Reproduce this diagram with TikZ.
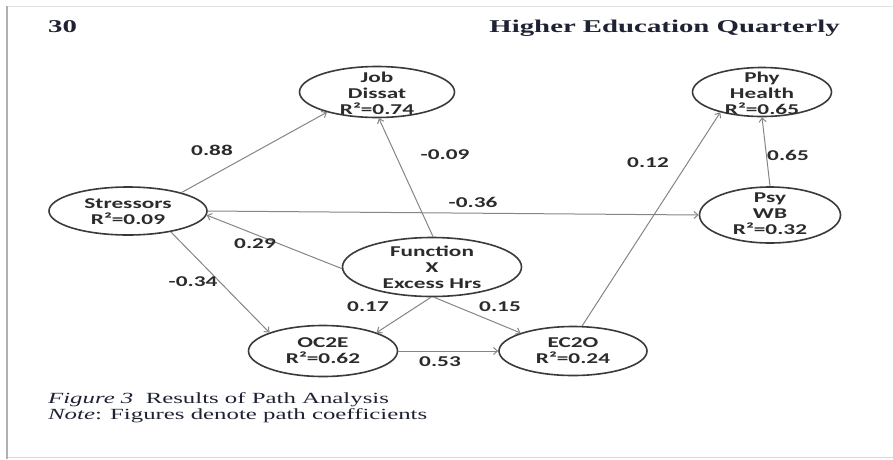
\documentclass[tikz,border=0pt]{standalone}
\usepackage{fontspec}
\setmainfont[FakeStretch=1.6]{Liberation Serif}
\newfontfamily\lblfont[FakeStretch=1.55]{Carlito}
\usetikzlibrary{shapes.geometric,arrows.meta}

\definecolor{ellcol}{HTML}{3A3A3A}
\definecolor{linkcol}{HTML}{858585}
\definecolor{txtcol}{HTML}{2B2B2B}
\definecolor{headcol}{HTML}{1E2233}
\definecolor{framecol}{HTML}{B0B0B0}

\tikzset{
  latent/.style={ellipse, draw=ellcol, line width=1.6pt, inner sep=0pt},
  ltext/.style={font=\lblfont\bfseries\fontsize{15}{16}\selectfont, text=txtcol, align=center, inner sep=0pt},
  coef/.style={font=\lblfont\bfseries\fontsize{15}{16}\selectfont, text=txtcol, inner sep=0pt},
  link/.style={draw=linkcol, line width=1pt, -{Straight Barb[length=4pt,width=7pt]}},
  headtext/.style={font=\bfseries\fontsize{18}{20}\selectfont, text=headcol, inner sep=0pt},
  captext/.style={font=\fontsize{15.5}{17}\selectfont, text=headcol, inner sep=0pt, anchor=west}
}

\begin{document}
\begin{tikzpicture}[x=1pt,y=-1pt]
  \useasboundingbox (0,0) rectangle (893,459);

  % page frame
  \draw[color=framecol!35, line width=0.8pt] (7,6) -- (893,6);
  \draw[color=framecol!50, line width=0.8pt] (7,457) -- (893,457);
  \draw[color=framecol, line width=1.5pt] (7,6) -- (7,459);

  % running head
  \node[headtext, anchor=west] (pagenum) at (48,27) {30};
  \node[headtext, anchor=east] (journal) at (840,28) {Higher Education Quarterly};

  % constructs
  \node[latent, minimum width=155pt, minimum height=51pt] (job)    at (377,92)  {};
  \node[latent, minimum width=139pt, minimum height=49pt] (phy)    at (762,92)  {};
  \node[latent, minimum width=158pt, minimum height=48pt] (stress) at (128,211) {};
  \node[latent, minimum width=141pt, minimum height=56pt] (psy)    at (770,215) {};
  \node[latent, minimum width=179pt, minimum height=59pt] (func)   at (432,267) {};
  \node[latent, minimum width=149pt, minimum height=51pt] (oc2e)   at (323,351) {};
  \node[latent, minimum width=148pt, minimum height=49pt] (ec2o)   at (573,351) {};

  \node[ltext] (job-t)    at (377,93)  {Job\\Dissat\\R²=0.74};
  \node[ltext] (phy-t)    at (762,93)  {Phy\\Health\\R²=0.65};
  \node[ltext] (stress-t) at (128,212) {Stressors\\R²=0.09};
  \node[ltext] (psy-t)    at (770,214) {Psy\\WB\\R²=0.32};
  \node[ltext] (func-t)   at (432,267) {Function\\X\\Excess Hrs};
  \node[ltext] (oc2e-t)   at (323,351) {OC2E\\R²=0.62};
  \node[ltext] (ec2o-t)   at (573,351) {EC2O\\R²=0.24};

  % paths
  \draw[link] (stress.19)  -- (job.202);
  \draw[link] (func.88)    -- (job.274);
  \draw[link] (stress.east) -- (psy.west);
  \draw[link] (func.181)   -- (stress.-3);
  \draw[link] (stress.-26) -- (oc2e.161);
  \draw[link] (func.268)   -- (oc2e.19);
  \draw[link] (func.274)   -- (ec2o.161);
  \draw[link] (oc2e.east)  -- (ec2o.west);
  \draw[link] (ec2o.70)    -- (phy.206);
  \draw[link] (psy.north)  -- (phy.south);

  % path coefficients
  \node[coef] (c1)  at (212,150) {0.88};
  \node[coef] (c2)  at (445,155) {-0.09};
  \node[coef] (c3)  at (648,163) {0.12};
  \node[coef] (c4)  at (788,155) {0.65};
  \node[coef] (c5)  at (473,202) {-0.36};
  \node[coef] (c6)  at (255,244) {0.29};
  \node[coef] (c7)  at (193,282) {-0.34};
  \node[coef] (c8)  at (368,307) {0.17};
  \node[coef] (c9)  at (500,307) {0.15};
  \node[coef] (c10) at (440,362) {0.53};

  % caption
  \node[captext] (cap1) at (48,400) {\textit{Figure 3}\ \ Results of Path Analysis};
  \node[captext] (cap2) at (48,416) {\textit{Note}: Figures denote path coefficients};
\end{tikzpicture}
\end{document}
